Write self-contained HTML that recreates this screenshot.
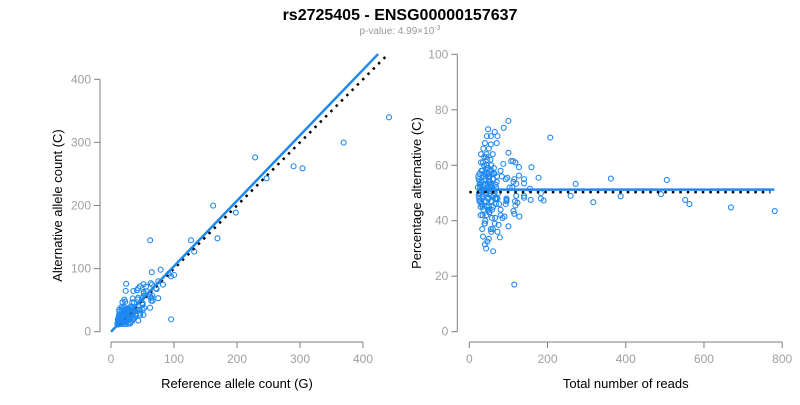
<!DOCTYPE html>
<html><head><meta charset="utf-8">
<style>
body{margin:0;background:#fff;font-family:"Liberation Sans",Arial,sans-serif;}
svg text{font-family:"Liberation Sans",Arial,sans-serif;}
</style></head>
<body>
<svg id="c" width="800" height="400" xmlns="http://www.w3.org/2000/svg">
<text x="400" y="20" text-anchor="middle" font-size="16" font-weight="bold" fill="#000">rs2725405 - ENSG00000157637</text>
<text x="400" y="34" text-anchor="middle" font-size="10" fill="#999">p-value: 4.99×10<tspan dy="-4" font-size="7">-3</tspan></text>
<g id="left"></g>
<g id="right"></g>
</svg>
<script>
// Data: per-sample total reads and percentage alternative (C)
const totalReads = [781,669,552,563,505,362,490,387,317,272,259,207,115,
177,183,190,183,155,157,159,140,140,140,140,127,127,120,120,123,128,117,118,115,113,118,112,107,100,100,88,100,113,115,110,103,97,93,95,95,93,95,90,85,87,83,80,80,80,78,72,75,72,70,65,60,61,48,55,55,40,45,50,40,43,50,46,35,33,55,60,65,68,
22,24,25,26,27,28,29,30,31,32,33,34,35,36,37,38,39,40,41,42,43,44,45,46,47,48,49,50,51,52,53,54,55,56,57,58,59,60,62,64,66,68,70,72,74,76,
23,25,27,29,31,33,35,37,39,41,43,45,47,49,51,53,55,57,59,61,63,65,67,69,71,
24,26,28,30,32,34,36,38,40,42,44,46,48,50,52,54,56,58,60,62,
30,34,38,42,46,50,54,58,62,66,36,40,44,48,52,56,32,28,26,44];
const pctAlt = [43.5,44.8,47.5,46,54.7,55.2,49.6,48.8,46.7,53.3,49,70,17,
55.5,48,47.3,50,51.5,47.5,59.3,55,53.5,49,48.3,59.3,56.3,53.3,49,46.5,41.5,47,45.5,42.5,43.5,61,61.5,61.5,64.5,76,73.5,38,54,55,52,52,55.5,55,48,47,46,47.5,41.5,41,60.5,56,58,44,42,34,36,38.5,70.5,68,72,64,29,73,70.5,67.5,68,70.5,66,31.5,30,33.5,32.5,34.3,37,37,37,39,46,
52,55,48,57,50,53,42,61,46,54,58,49,51,44,56,60,47,53,40,55,63,50,45,57,52,59,48,54,43,56,50,62,47,53,58,44,51,55,49,57,41,52,54,48,50,46,
56,50,53,45,58,48,61,52,39,55,47,60,51,56,43,54,49,57,52,45,59,50,53,48,56,
49,54,47,51,58,45,53,63,50,56,42,59,48,55,44,52,60,47,51,57,
64,42,57,50,62,45,53,41,55,48,66,39,60,44,58,36,46,52,47,64];

const NS="http://www.w3.org/2000/svg";
function mk(parent,tag,attrs,name){const e=document.createElementNS(NS,tag);for(const k in attrs)e.setAttribute(k,attrs[k]);


parent.appendChild(e);return e;}
const AX="#7f7f7f", TICK="#a0a0a0";

// Left panel scales
const lx=v=>111+v*0.63, ly=v=>331.7-v*0.631;
// Right panel scales
const rx=v=>469.3+v*0.3911, ry=v=>331.7-v*2.774;

function axes(g,sx,sy,xt,yt,xLine,yLine,xt0,xt1,yt0,yt1,xtitle,ytitle,ytx){
  mk(g,'line',{x1:sx(xt0),x2:sx(xt1),y1:342,y2:342,stroke:AX},'x-axis-line');
  xt.forEach(t=>{mk(g,'line',{x1:sx(t),x2:sx(t),y1:342,y2:348,stroke:AX},'x-tick');
    const tx=mk(g,'text',{x:sx(t),y:363,'text-anchor':'middle','font-size':12,fill:TICK},'x-tick-label');tx.textContent=t;});
  mk(g,'line',{x1:yLine,x2:yLine,y1:sy(yt1),y2:sy(yt0),stroke:AX},'y-axis-line');
  yt.forEach(t=>{mk(g,'line',{x1:yLine-6,x2:yLine,y1:sy(t),y2:sy(t),stroke:AX},'y-tick');
    const tx=mk(g,'text',{x:yLine-9,y:sy(t)+4,'text-anchor':'end','font-size':12,fill:TICK},'y-tick-label');tx.textContent=t;});
  const xl=mk(g,'text',{x:(sx(xt0)+sx(xt1))/2,y:388,'text-anchor':'middle','font-size':13,fill:'#000'},'x-axis-title');xl.textContent=xtitle;
  const yl=mk(g,'text',{x:ytx,y:(sy(yt0)+sy(yt1))/2,'text-anchor':'middle','font-size':13,fill:'#000',transform:`rotate(-90 ${ytx} ${(sy(yt0)+sy(yt1))/2})`},'y-axis-title');yl.textContent=ytitle;
}
const L=document.getElementById('left'), R=document.getElementById('right');
axes(L,lx,ly,[0,100,200,300,400],[0,100,200,300,400],342,100,0,400,0,400,'Reference allele count (G)','Alternative allele count (C)',62);
axes(R,rx,ry,[0,200,400,600,800],[0,20,40,60,80,100],342,457.3,0,800,0,100,'Total number of reads','Percentage alternative (C)',421);

// left points
totalReads.forEach((t,i)=>{const alt=t*pctAlt[i]/100, ref=t-alt;
  mk(L,'circle',{cx:lx(ref),cy:ly(alt),r:2.5,fill:'none',stroke:'#1e88f0','stroke-width':1.1},'left-point');});
// left lines
mk(L,'line',{x1:lx(12),y1:ly(12),x2:lx(437),y2:ly(437),stroke:'#000','stroke-width':2.5,'stroke-dasharray':'2.5,5'},'identity-line');
mk(L,'line',{x1:lx(0),y1:ly(0),x2:lx(424),y2:ly(440),stroke:'#1e88f0','stroke-width':2.5},'fit-line');
// right points
totalReads.forEach((t,i)=>{
  mk(R,'circle',{cx:rx(t),cy:ry(pctAlt[i]),r:2.5,fill:'none',stroke:'#1e88f0','stroke-width':1.1},'right-point');});
mk(R,'line',{x1:rx(0),y1:ry(50.3),x2:rx(770),y2:ry(50.3),stroke:'#000','stroke-width':2.5,'stroke-dasharray':'2.5,5'},'null-line');
mk(R,'line',{x1:rx(20),y1:ry(51.2),x2:rx(780),y2:ry(51.2),stroke:'#1e88f0','stroke-width':2.5},'mean-line');
</script>
</body></html>
